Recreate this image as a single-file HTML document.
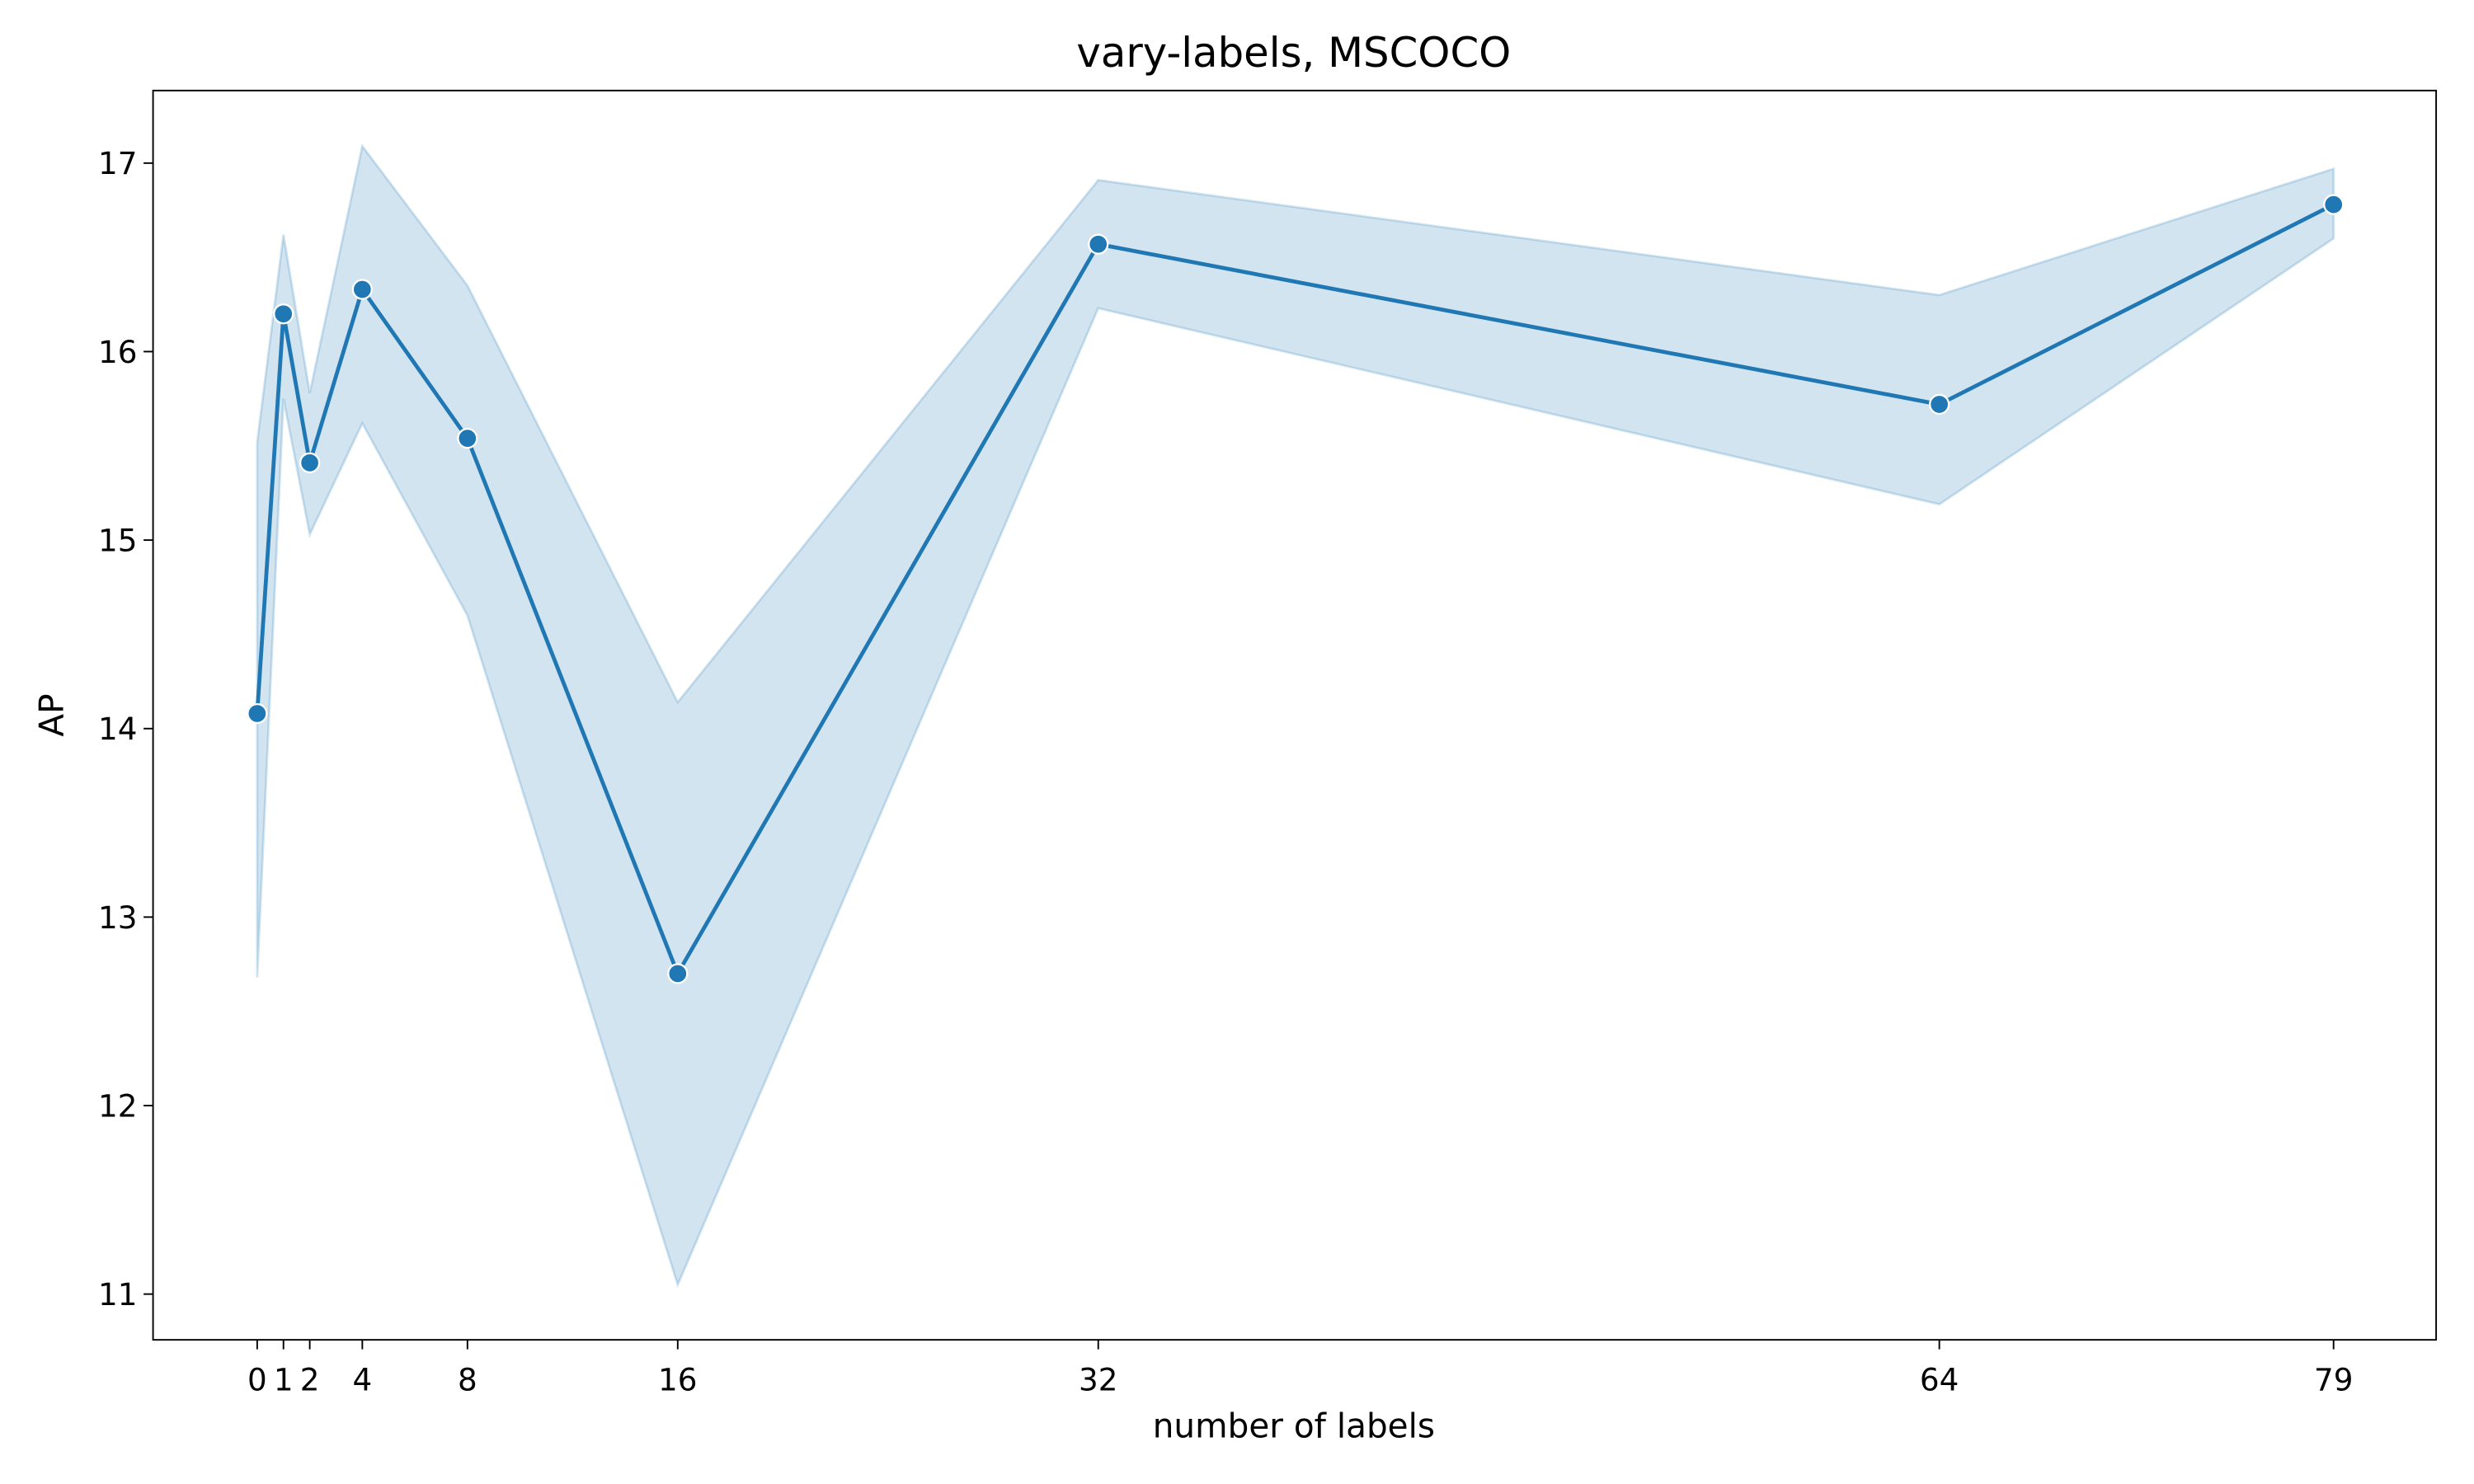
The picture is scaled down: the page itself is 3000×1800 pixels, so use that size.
<!DOCTYPE html>
<html><head><meta charset="utf-8"><style>html,body{margin:0;padding:0;background:#fff}svg{display:block}text{font-family:"DejaVu Sans","Liberation Sans",sans-serif;fill:#000}</style></head>
<body>
<svg id="chart" width="3000" height="1800" viewBox="0 0 1568 940" xmlns="http://www.w3.org/2000/svg">
<rect width="1568" height="940" fill="#fff"/>
<g id="band"></g>
<g id="line"></g>
<g id="points"></g>
<rect x="97" y="57" width="1447" height="792" fill="none" stroke="#000" stroke-width="1"/>
<g id="xticks"></g>
<g id="yticks"></g>
<text x="820" y="42" font-size="26" text-anchor="middle">vary-labels, MSCOCO</text>
<text x="820" y="911" font-size="21.2" text-anchor="middle">number of labels</text>
<text x="40" y="453" font-size="21.2" text-anchor="middle" transform="rotate(-90 40 453)">AP</text>
</svg>
<script>
const xs = [0, 1, 2, 4, 8, 16, 32, 64, 79];
const meanAP = [14.08, 16.2, 15.41, 16.33, 15.54, 12.7, 16.57, 15.72, 16.78];
const upperAP = [15.52, 16.62, 15.78, 17.09, 16.35, 14.14, 16.91, 16.3, 16.97];
const lowerAP = [12.68, 15.75, 15.03, 15.62, 14.6, 11.05, 16.23, 15.19, 16.6];
const xTickLabels = ["0", "1", "2", "4", "8", "16", "32", "64", "79"];
const yTickValues = [11, 12, 13, 14, 15, 16, 17];

const NS = "http://www.w3.org/2000/svg";
const X = v => 163 + (v - 0) * (1479 - 163) / 79;
const Y = v => 820 - (v - 11) * (820 - 103) / 6;
function mk(tag, attrs, parent) { const e = document.createElementNS(NS, tag); for (const k in attrs) e.setAttribute(k, attrs[k]); parent.appendChild(e); return e; }

const up = xs.map((x, i) => X(x) + "," + Y(upperAP[i]));
const lo = xs.map((x, i) => X(x) + "," + Y(lowerAP[i])).reverse();
const poly = mk("polygon", { points: up.concat(lo).join(" "), fill: "#1f77b4", "fill-opacity": 0.2, stroke: "#1f77b4", "stroke-opacity": 0.2, "stroke-width": 1.5 }, document.getElementById("band"));



const pl = mk("polyline", { points: xs.map((x, i) => X(x) + "," + Y(meanAP[i])).join(" "), fill: "none", stroke: "#1f77b4", "stroke-width": 2.5, "stroke-linejoin": "round" }, document.getElementById("line"));



xs.forEach((x, i) => {
  const c = mk("circle", { cx: X(x), cy: Y(meanAP[i]), r: 6, fill: "#1f77b4", stroke: "#fff", "stroke-width": 1.2 }, document.getElementById("points"));
  
  
});

const xg = document.getElementById("xticks");
xs.forEach((x, i) => {
  const t = mk("line", { x1: X(x), x2: X(x), y1: 849, y2: 855, stroke: "#000", "stroke-width": 1 }, xg);
  
  
  const l = mk("text", { x: X(x), y: 881, "font-size": 19.5, "text-anchor": "middle" }, xg);
  l.textContent = xTickLabels[i];
  
  
});
const yg = document.getElementById("yticks");
yTickValues.forEach(v => {
  const t = mk("line", { x1: 91, x2: 97, y1: Y(v), y2: Y(v), stroke: "#000", "stroke-width": 1 }, yg);
  
  
  const l = mk("text", { x: 87, y: Y(v) + 7, "font-size": 19.5, "text-anchor": "end" }, yg);
  l.textContent = v;
  
  
});
</script>
</body></html>
